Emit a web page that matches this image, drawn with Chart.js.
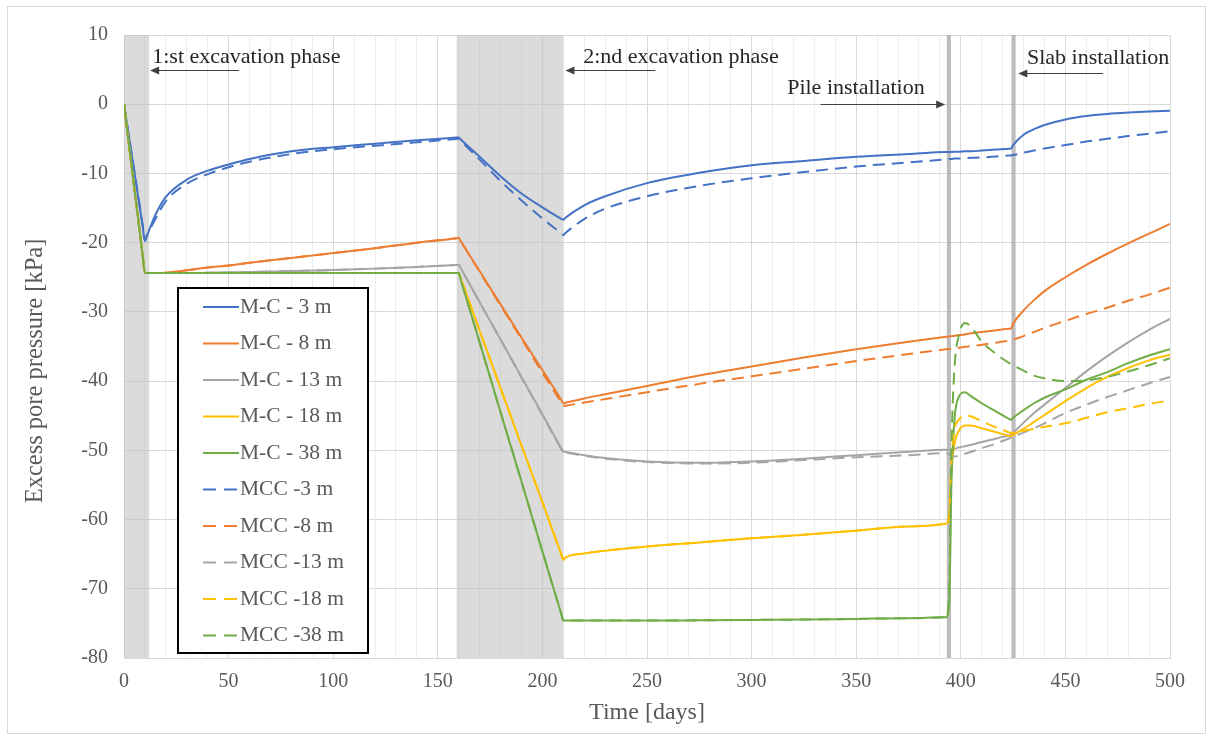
<!DOCTYPE html>
<html>
<head>
<meta charset="utf-8">
<title>Excess pore pressure</title>
<script src="https://cdn.jsdelivr.net/npm/chart.js"></script>
<style>
  html, body { margin: 0; padding: 0; background: #fff; }
  #wrap { position: relative; width: 1213px; height: 740px; }
  #frame { position: absolute; left: 7px; top: 6px; width: 1199px; height: 728px;
           border: 1px solid #D9D9D9; box-sizing: border-box; pointer-events: none; }
</style>
</head>
<body>
<div id="wrap">
  <canvas id="chart" width="1213" height="740"></canvas>
  <div id="frame"></div>
</div>
<script>
var days = [0, 9, 10, 11, 15, 20, 30, 40, 50, 60,
  80, 100, 120, 140, 159, 160, 161, 170, 180, 190,
  200, 209, 210, 211, 220, 230, 250, 275, 300, 325,
  350, 375, 393, 394.5, 395.5, 397, 399, 402, 405, 410,
  417, 423, 424, 425, 430, 435, 440, 450, 460, 470,
  480, 490, 500];

// M-C model
var mc3 = [0, -17.8, -19.8, -19.0, -16.0, -13.4, -10.9, -9.6, -8.7, -7.9,
  -6.8, -6.2, -5.7, -5.2, -4.82, -4.8, -5.1, -7.6, -10.4, -12.9,
  -14.9, -16.55, -16.7, -16.4, -14.6, -13.3, -11.4, -9.9, -8.8, -8.2,
  -7.6, -7.2, -6.9, -6.9, -6.9, -6.85, -6.85, -6.8, -6.8, -6.7,
  -6.55, -6.42, -6.4, -5.9, -4.4, -3.6, -3.0, -2.2, -1.7, -1.4,
  -1.2, -1.05, -0.95];
var mc8 = [0, -22.0, -24.4, -24.4, -24.4, -24.35, -24.0, -23.6, -23.3, -22.9,
  -22.2, -21.5, -20.8, -20.0, -19.35, -19.3, -19.8, -24.1, -28.9, -33.7,
  -38.4, -42.7, -43.2, -43.13, -42.5, -41.9, -40.7, -39.2, -37.9, -36.6,
  -35.4, -34.3, -33.6, -33.55, -33.5, -33.45, -33.35, -33.25, -33.1, -32.9,
  -32.65, -32.44, -32.4, -31.7, -29.8, -28.3, -27.0, -25.0, -23.2, -21.6,
  -20.1, -18.7, -17.3];
var mc13 = [0, -22.0, -24.4, -24.4, -24.4, -24.4, -24.4, -24.35, -24.3, -24.25,
  -24.1, -23.95, -23.75, -23.5, -23.22, -23.2, -23.7, -28.6, -34.0, -39.4,
  -44.8, -49.7, -50.2, -50.25, -50.7, -51.1, -51.6, -51.8, -51.6, -51.2,
  -50.7, -50.2, -49.9, -50.0, -50.0, -49.8, -49.6, -49.4, -49.2, -48.8,
  -48.3, -47.85, -47.8, -47.5, -46.0, -44.6, -43.4, -41.0, -38.6, -36.4,
  -34.4, -32.6, -31.0];
var mc18 = [0, -22.0, -24.4, -24.4, -24.4, -24.4, -24.4, -24.4, -24.4, -24.4,
  -24.4, -24.4, -24.4, -24.4, -24.4, -24.4, -25.2, -32.7, -41.0, -49.3,
  -57.5, -65.0, -65.8, -65.5, -64.9, -64.5, -63.9, -63.3, -62.7, -62.2,
  -61.6, -61.0, -60.6, -59.5, -53.0, -49.0, -47.2, -46.4, -46.4, -46.8,
  -47.4, -47.9, -48.0, -47.8, -46.9, -45.9, -44.9, -42.9, -41.0, -39.4,
  -38.1, -37.0, -36.2];
var mc38 = [0, -22.0, -24.4, -24.4, -24.4, -24.4, -24.4, -24.4, -24.4, -24.4,
  -24.4, -24.4, -24.4, -24.4, -24.4, -24.4, -25.4, -34.4, -44.5, -54.5,
  -64.6, -73.6, -74.6, -74.6, -74.6, -74.6, -74.6, -74.55, -74.5, -74.45,
  -74.35, -74.25, -74.1, -72.0, -55.0, -45.5, -42.3, -41.6, -42.2, -43.2,
  -44.4, -45.45, -45.6, -45.3, -44.2, -43.2, -42.4, -41.2, -39.8, -38.7,
  -37.4, -36.3, -35.4];

// MCC model
var mcc3 = [0, -17.6, -19.6, -18.9, -16.6, -14.0, -11.5, -10.1, -9.1, -8.3,
  -7.2, -6.5, -6.0, -5.5, -5.02, -5.0, -5.3, -8.0, -11.1, -13.9,
  -16.5, -18.65, -18.9, -18.6, -16.6, -15.1, -13.3, -11.8, -10.7, -9.8,
  -9.0, -8.4, -7.95, -7.9, -7.9, -7.85, -7.85, -7.8, -7.75, -7.7,
  -7.55, -7.42, -7.4, -7.35, -7.0, -6.7, -6.4, -5.9, -5.4, -5.0,
  -4.6, -4.25, -3.9];
var mcc8 = [0, -22.0, -24.4, -24.4, -24.4, -24.35, -24.0, -23.6, -23.3, -22.9,
  -22.2, -21.5, -20.8, -20.0, -19.35, -19.3, -19.8, -24.2, -29.1, -33.9,
  -38.8, -43.1, -43.6, -43.55, -43.1, -42.6, -41.6, -40.4, -39.3, -38.2,
  -37.1, -36.1, -35.4, -35.35, -35.3, -35.25, -35.2, -35.05, -34.95, -34.75,
  -34.45, -34.15, -34.1, -34.0, -33.5, -32.9, -32.3, -31.3, -30.3, -29.4,
  -28.4, -27.5, -26.5];
var mcc13 = [0, -22.0, -24.4, -24.4, -24.4, -24.4, -24.4, -24.35, -24.3, -24.25,
  -24.1, -23.95, -23.75, -23.5, -23.22, -23.2, -23.7, -28.6, -34.0, -39.5,
  -44.9, -49.8, -50.3, -50.35, -50.8, -51.2, -51.7, -51.9, -51.8, -51.4,
  -51.0, -50.7, -50.4, -50.6, -50.8, -50.9, -50.8, -50.5, -50.2, -49.7,
  -49.0, -48.3, -48.2, -48.1, -47.4, -46.8, -46.1, -44.6, -43.4, -42.3,
  -41.3, -40.3, -39.4];
var mcc18 = [0, -22.0, -24.4, -24.4, -24.4, -24.4, -24.4, -24.4, -24.4, -24.4,
  -24.4, -24.4, -24.4, -24.4, -24.4, -24.4, -25.2, -32.7, -41.0, -49.3,
  -57.5, -65.0, -65.8, -65.5, -64.9, -64.5, -63.9, -63.3, -62.7, -62.2,
  -61.6, -61.0, -60.6, -59.0, -51.5, -47.0, -45.6, -45.0, -45.1, -45.8,
  -46.7, -47.4, -47.5, -47.45, -47.2, -46.9, -46.6, -46.1, -45.3, -44.5,
  -43.9, -43.3, -42.8];
var mcc38 = [0, -22.0, -24.4, -24.4, -24.4, -24.4, -24.4, -24.4, -24.4, -24.4,
  -24.4, -24.4, -24.4, -24.4, -24.4, -24.4, -25.4, -34.4, -44.5, -54.5,
  -64.6, -73.6, -74.6, -74.6, -74.6, -74.6, -74.6, -74.55, -74.5, -74.45,
  -74.35, -74.25, -74.1, -70.0, -50.0, -38.0, -33.5, -31.6, -32.2, -34.3,
  -36.1, -37.35, -37.5, -37.7, -38.5, -39.2, -39.6, -40.0, -39.9, -39.4,
  -38.6, -37.7, -36.7];

var seriesNames = ['M-C - 3 m', 'M-C - 8 m', 'M-C - 13 m', 'M-C - 18 m', 'M-C - 38 m',
  'MCC -3 m', 'MCC -8 m', 'MCC -13 m', 'MCC -18 m', 'MCC -38 m'];
var seriesValues = [mc3, mc8, mc13, mc18, mc38, mcc3, mcc8, mcc13, mcc18, mcc38];
var depthColors = ['#4472C4', '#ED7D31', '#A5A5A5', '#FFC000', '#70AD47'];

// construction phases (days)
var phaseNames = ['1:st excavation phase', '2:nd excavation phase', 'Pile installation', 'Slab installation'];
var phaseStart = [0, 159, 393.3, 424.2];
var phaseEnd = [12, 210, 395.3, 426.2];

var serif = '"Liberation Serif", "Times New Roman", serif';
var textGrey = '#595959';

var datasets = seriesValues.map(function (values, i) {
  var color = depthColors[i % 5];
  return {
    label: seriesNames[i],
    data: days.map(function (t, k) { return { x: t, y: values[k] }; }),
    borderColor: color,
    backgroundColor: color,
    borderWidth: 2,
    borderDash: i >= 5 ? [12, 7] : [],
    pointRadius: 0,
    cubicInterpolationMode: 'monotone',
    fill: false,
    order: 10 - i
  };
});

function drawArrow(ctx, from, to, y) {
  var dir = to < from ? 1 : -1;
  ctx.beginPath();
  ctx.moveTo(from, y);
  ctx.lineTo(to + dir * 4, y);
  ctx.stroke();
  ctx.beginPath();
  ctx.moveTo(to, y);
  ctx.lineTo(to + dir * 9, y - 4);
  ctx.lineTo(to + dir * 9, y + 4);
  ctx.closePath();
  ctx.fill();
}

var phasePlugin = {
  id: 'phases',
  beforeDatasetsDraw: function (chart) {
    var ctx = chart.ctx, area = chart.chartArea, xs = chart.scales.x;
    ctx.save();
    for (var i = 0; i < phaseStart.length; i++) {
      var x0 = xs.getPixelForValue(phaseStart[i]);
      var x1 = xs.getPixelForValue(phaseEnd[i]);
      ctx.fillStyle = i < 2 ? 'rgba(190,190,190,0.55)' : 'rgba(165,165,165,0.75)';
      ctx.fillRect(x0, area.top, x1 - x0, area.bottom - area.top);
    }
    ctx.restore();
  },
  afterDatasetsDraw: function (chart) {
    var ctx = chart.ctx, xs = chart.scales.x, ys = chart.scales.y;
    // text anchor (day, kPa) and arrow (from day, to day, kPa)
    var notes = [
      { tx: 13.5, ty: 6.8, a0: 55, a1: 12.5, ay: 5.0 },
      { tx: 219.5, ty: 6.8, a0: 254, a1: 211, ay: 4.9 },
      { tx: 317, ty: 2.3, a0: 333, a1: 392.5, ay: 0.1 },
      { tx: 431.6, ty: 6.6, a0: 468, a1: 427.5, ay: 4.5 }
    ];
    ctx.save();
    ctx.font = '22px ' + serif;
    ctx.textBaseline = 'middle';
    ctx.strokeStyle = '#404040';
    ctx.lineWidth = 1;
    notes.forEach(function (n, i) {
      ctx.fillStyle = '#262626';
      ctx.fillText(phaseNames[i], xs.getPixelForValue(n.tx), ys.getPixelForValue(n.ty));
      ctx.fillStyle = '#404040';
      drawArrow(ctx, xs.getPixelForValue(n.a0), xs.getPixelForValue(n.a1), Math.round(ys.getPixelForValue(n.ay)) + 0.5);
    });
    ctx.restore();
  },
  afterDraw: function (chart) {
    var ctx = chart.ctx, area = chart.chartArea;
    ctx.save();
    // y axis title, placed like the original (a bit below the plot centre)
    ctx.translate(area.left - 88, area.top + 336);
    ctx.rotate(-Math.PI / 2);
    ctx.font = '24.5px ' + serif;
    ctx.fillStyle = textGrey;
    ctx.textAlign = 'center';
    ctx.textBaseline = 'middle';
    ctx.fillText('Excess pore pressure [kPa]', 0, 0);
    ctx.restore();

    // legend box inside the plot
    var left = area.left + 54, top = area.top + 253, w = 190, h = 365;
    ctx.save();
    ctx.fillStyle = '#fff';
    ctx.fillRect(left, top, w, h);
    ctx.strokeStyle = '#000';
    ctx.lineWidth = 2;
    ctx.strokeRect(left, top, w, h);
    ctx.font = '21.5px ' + serif;
    ctx.textBaseline = 'middle';
    chart.data.datasets.forEach(function (ds, i) {
      var y = top + 19 + i * 36.5;
      ctx.strokeStyle = ds.borderColor;
      ctx.lineWidth = 2;
      ctx.setLineDash(i >= 5 ? [13, 8] : []);
      ctx.beginPath();
      ctx.moveTo(left + 25, y);
      ctx.lineTo(left + 61, y);
      ctx.stroke();
      ctx.setLineDash([]);
      ctx.fillStyle = textGrey;
      ctx.fillText(ds.label, left + 62, y);
    });
    ctx.restore();
  }
};

new Chart(document.getElementById('chart'), {
  type: 'line',
  data: { datasets: datasets },
  plugins: [phasePlugin],
  options: {
    responsive: false,
    animation: false,
    layout: { padding: { top: 35, right: 43, left: 0, bottom: 0 } },
    plugins: {
      legend: { display: false },
      tooltip: { enabled: false }
    },
    scales: {
      x: {
        type: 'linear',
        min: 0,
        max: 500,
        afterFit: function (scale) { scale.height = 82; },
        ticks: {
          stepSize: 10,
          autoSkip: false,
          maxRotation: 0,
          padding: 12,
          color: textGrey,
          font: { family: serif, size: 20 },
          callback: function (value) { return value % 50 === 0 ? value : ''; }
        },
        grid: {
          drawTicks: false,
          color: function (c) { return c.tick && c.tick.value % 50 === 0 ? '#D9D9D9' : '#EEEEEE'; }
        },
        border: { display: true, color: '#D9D9D9' },
        title: {
          display: true,
          text: 'Time [days]',
          color: textGrey,
          font: { family: serif, size: 24 },
          padding: { top: 0, bottom: 13 }
        }
      },
      y: {
        min: -80,
        max: 10,
        afterFit: function (scale) { scale.width = 124; },
        ticks: {
          stepSize: 10,
          padding: 16,
          color: textGrey,
          font: { family: serif, size: 20 }
        },
        grid: { drawTicks: false, color: '#D9D9D9' },
        border: { display: false }
      }
    }
  }
});
</script>
</body>
</html>
